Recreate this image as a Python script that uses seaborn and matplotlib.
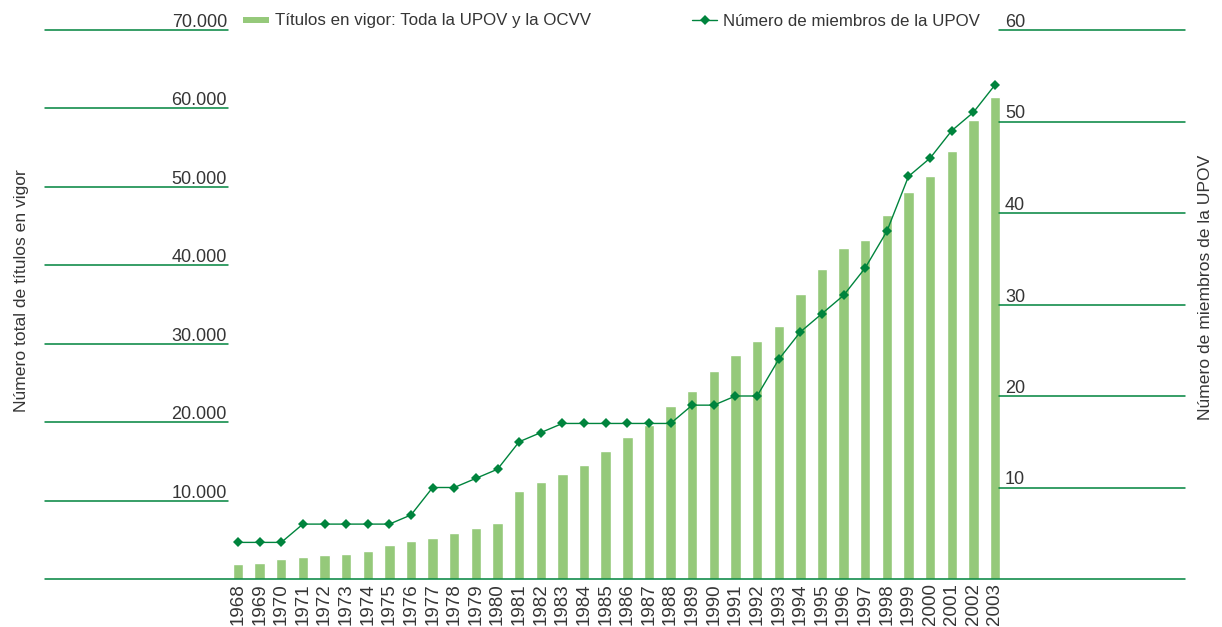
import numpy as np
import pandas as pd
import matplotlib
matplotlib.use("Agg")
import matplotlib.pyplot as plt
from matplotlib.lines import Line2D
import seaborn as sns

# ============================================================================
# DATA
# ============================================================================
years = [str(y) for y in range(1968, 2004)]

titulos = [1950, 2100, 2600, 2750, 3050, 3170, 3550, 4300, 4800, 5200,
           5850, 6480, 7100, 11200, 12350, 13350, 14500, 16300, 18100, 19600,
           22050, 23950, 26500, 28550, 30350, 32250, 36400, 39500, 42200, 43200,
           46400, 49300, 51400, 54600, 58500, 61450]

miembros = [4, 4, 4, 6, 6, 6, 6, 6, 7, 10,
            10, 11, 12, 15, 16, 17, 17, 17, 17, 17,
            17, 19, 19, 20, 20, 24, 27, 29, 31, 34,
            38, 44, 46, 49, 51, 54]

left_ticks = [10000, 20000, 30000, 40000, 50000, 60000, 70000]
right_ticks = [10, 20, 30, 40, 50, 60]

label_bars = "Títulos en vigor: Toda la UPOV y la OCVV"
label_line = "Número de miembros de la UPOV"
ylabel_left = "Número total de títulos en vigor"
ylabel_right = "Número de miembros de la UPOV"

# ============================================================================
# STYLE
# ============================================================================
BAR_COLOR = "#95C97A"
LINE_COLOR = "#00843D"
TEXT_COLOR = "#353535"
FS_TICK = 13
FS_LEG = 12.2
FS_LAB = 12.6

sns.set_theme(style="white")
plt.rcParams['font.family'] = ['Liberation Sans', 'DejaVu Sans']
plt.rcParams['text.color'] = TEXT_COLOR

df = pd.DataFrame({"year": years, "titulos": titulos, "miembros": miembros})
df["pos"] = np.arange(len(df))

W, H = 1222, 627
fig = plt.figure(figsize=(W / 100, H / 100), dpi=100)
ax = fig.add_axes([45 / W, 48 / H, 1140 / W, 549 / H])

sns.barplot(data=df, x="year", y="titulos", color=BAR_COLOR, saturation=1,
            width=0.48, ax=ax)

ax2 = ax.twinx()
sns.lineplot(data=df, x="pos", y="miembros", ax=ax2, color=LINE_COLOR,
             linewidth=1.0, marker="D", markersize=5.5, markeredgewidth=0)

# x positions: 1968 bar centred at px 238, 2003 at px 995
step = (995 - 238) / (len(years) - 1)
ax.set_xlim(-(238 - 45) / step, len(years) - 1 + (1185 - 995) / step)
ax.set_ylim(0, 70000)
ax2.set_ylim(0, 60)

for a in (ax, ax2):
    for s in a.spines.values():
        s.set_visible(False)
    a.set_yticks([])
    a.set_xlabel("")
    a.set_ylabel("")

ax.tick_params(axis="x", length=0, pad=3, labelsize=13.5, labelcolor=TEXT_COLOR,
               rotation=90)

GRID_LW = 1.1

# short gridlines + labels on the left
left_end = (228 - 45) / 1140
for v in left_ticks:
    ax.plot([0, left_end], [v, v], transform=ax.get_yaxis_transform(),
            color=LINE_COLOR, lw=GRID_LW, clip_on=False)
    ax.annotate(f"{v:,}".replace(",", "."), xy=(left_end, v),
                xycoords=ax.get_yaxis_transform(), xytext=(-1, 3),
                textcoords="offset pixels", ha="right", va="baseline",
                fontsize=FS_TICK, color=TEXT_COLOR)

# short gridlines + labels on the right
right_start = (999 - 45) / 1140
for v in right_ticks:
    ax2.plot([right_start, 1], [v, v], transform=ax2.get_yaxis_transform(),
             color=LINE_COLOR, lw=GRID_LW, clip_on=False)
    ax2.annotate(str(v), xy=(right_start, v),
                 xycoords=ax2.get_yaxis_transform(), xytext=(6, 3),
                 textcoords="offset pixels", ha="left", va="baseline",
                 fontsize=FS_TICK, color=TEXT_COLOR)

# baseline across the full width
ax.plot([0, 1], [0, 0], transform=ax.get_yaxis_transform(),
        color=LINE_COLOR, lw=GRID_LW, clip_on=False)

fig.text(22 / W, 1 - 291 / H, ylabel_left, rotation=90, ha="center",
         va="center", fontsize=FS_LAB, color=TEXT_COLOR)
fig.text(1205 / W, 1 - 287 / H, ylabel_right, rotation=90, ha="center",
         va="center", fontsize=FS_LAB, color=TEXT_COLOR)

# legends: two single entries placed where the reference shows them
em = FS_LEG * 100 / 72
bar_handle = Line2D([0], [0], color=BAR_COLOR, lw=4.3, solid_capstyle="butt")
line_handle = Line2D([0], [0], color=LINE_COLOR, lw=1.0, marker="D",
                     markersize=5.5, markeredgewidth=0)
fig.legend([bar_handle], [label_bars], loc="center left",
           bbox_to_anchor=(243 / W, 1 - 21 / H), frameon=False,
           fontsize=FS_LEG, handlelength=26 / em, handletextpad=6 / em,
           borderaxespad=0, borderpad=0)
fig.legend([line_handle], [label_line], loc="center left",
           bbox_to_anchor=(692 / W, 1 - 21 / H), frameon=False,
           fontsize=FS_LEG, handlelength=25 / em, handletextpad=6 / em,
           borderaxespad=0, borderpad=0)

fig.savefig("out.png", dpi=100)
